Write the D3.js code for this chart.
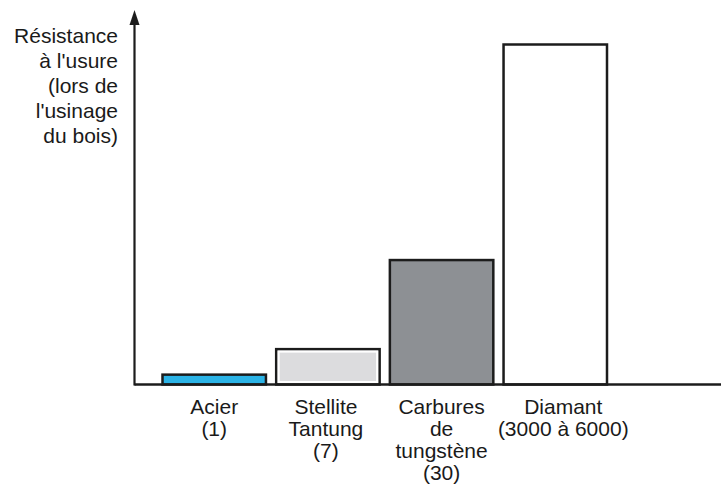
<!DOCTYPE html>
<html>
<head>
<meta charset="utf-8">
<script src="https://cdn.jsdelivr.net/npm/d3@7"></script>
<style>
  html, body { margin: 0; padding: 0; background: #fff; }
  svg { display: block; }
  text { font-family: "Liberation Sans", Arial, sans-serif; fill: #1a1a1a; }
</style>
</head>
<body>
<svg id="chart" width="721" height="492"></svg>
<script>
'use strict';

// schematic heights (relative)
var materials = ['Acier', 'Stellite', 'Carbures', 'Diamant'];
var wear = [2.9, 10.4, 36.6, 100];
var labels = [
    ['Acier', '(1)'],
    ['Stellite', 'Tantung', '(7)'],
    ['Carbures', 'de', 'tungstène', '(30)'],
    ['Diamant', '(3000 à 6000)']
];
var fills = ['#2bb3e6', '#dcdcde', '#8d9094', '#ffffff'];
var yTitle = ['Résistance', 'à l\'usure', '(lors de', 'l\'usinage', 'du bois)'];

var svg = d3.select('#chart');
var axisX = 134.5;
var baseY = 384.5;

var x = d3.scaleBand()
    .domain(materials)
    .range([162.5, 607])
    .paddingInner(0.09)
    .paddingOuter(0);

var y = d3.scaleLinear()
    .domain([0, 100])
    .range([baseY, 44.5]);

// bars
var bars = svg.append('g').selectAll('g')
    .data(materials)
    .enter().append('g');

bars.append('rect')
    .attr('x', function(d) { return x(d); })
    .attr('y', function(d, i) { return y(wear[i]); })
    .attr('width', x.bandwidth())
    .attr('height', function(d, i) { return baseY - y(wear[i]); })
    .attr('fill', function(d, i) { return fills[i]; })
    .attr('stroke', '#1c1c1c')
    .attr('stroke-width', 2.5);

// white inner rim on the Stellite bar
bars.filter(function(d) { return d === 'Stellite'; })
    .append('rect')
    .attr('x', function(d) { return x(d) + 2.5; })
    .attr('y', function() { return y(wear[1]) + 2.5; })
    .attr('width', x.bandwidth() - 5)
    .attr('height', function() { return baseY - y(wear[1]) - 5; })
    .attr('fill', 'none')
    .attr('stroke', '#ffffff')
    .attr('stroke-width', 2);

// axes
svg.append('line')
    .attr('x1', axisX).attr('x2', 721)
    .attr('y1', baseY).attr('y2', baseY)
    .attr('stroke', '#1c1c1c')
    .attr('stroke-width', 2.5);

svg.append('line')
    .attr('x1', axisX).attr('x2', axisX)
    .attr('y1', baseY + 1).attr('y2', 20)
    .attr('stroke', '#1c1c1c')
    .attr('stroke-width', 2.2);

svg.append('path')
    .attr('d', 'M' + axisX + ',10 L' + (axisX - 5) + ',25 L' + (axisX + 5) + ',25 Z')
    .attr('fill', '#1c1c1c');

// y title
svg.append('text')
    .attr('text-anchor', 'end')
    .attr('font-size', 21)
    .selectAll('tspan')
    .data(yTitle)
    .enter().append('tspan')
    .attr('x', 118)
    .attr('y', function(d, i) { return 43 + i * 25; })
    .text(function(d) { return d; });

// category labels
var labelDx = [0, -2, 0, 8];
svg.append('g').selectAll('text')
    .data(materials)
    .enter().append('text')
    .attr('text-anchor', 'middle')
    .attr('font-size', 21)
    .each(function(d, i) {
        var cx = x(d) + x.bandwidth() / 2 + labelDx[i];
        d3.select(this).selectAll('tspan')
            .data(labels[i])
            .enter().append('tspan')
            .attr('x', cx)
            .attr('y', function(t, j) { return 414 + j * 22; })
            .text(function(t) { return t; });
    });
</script>
</body>
</html>
